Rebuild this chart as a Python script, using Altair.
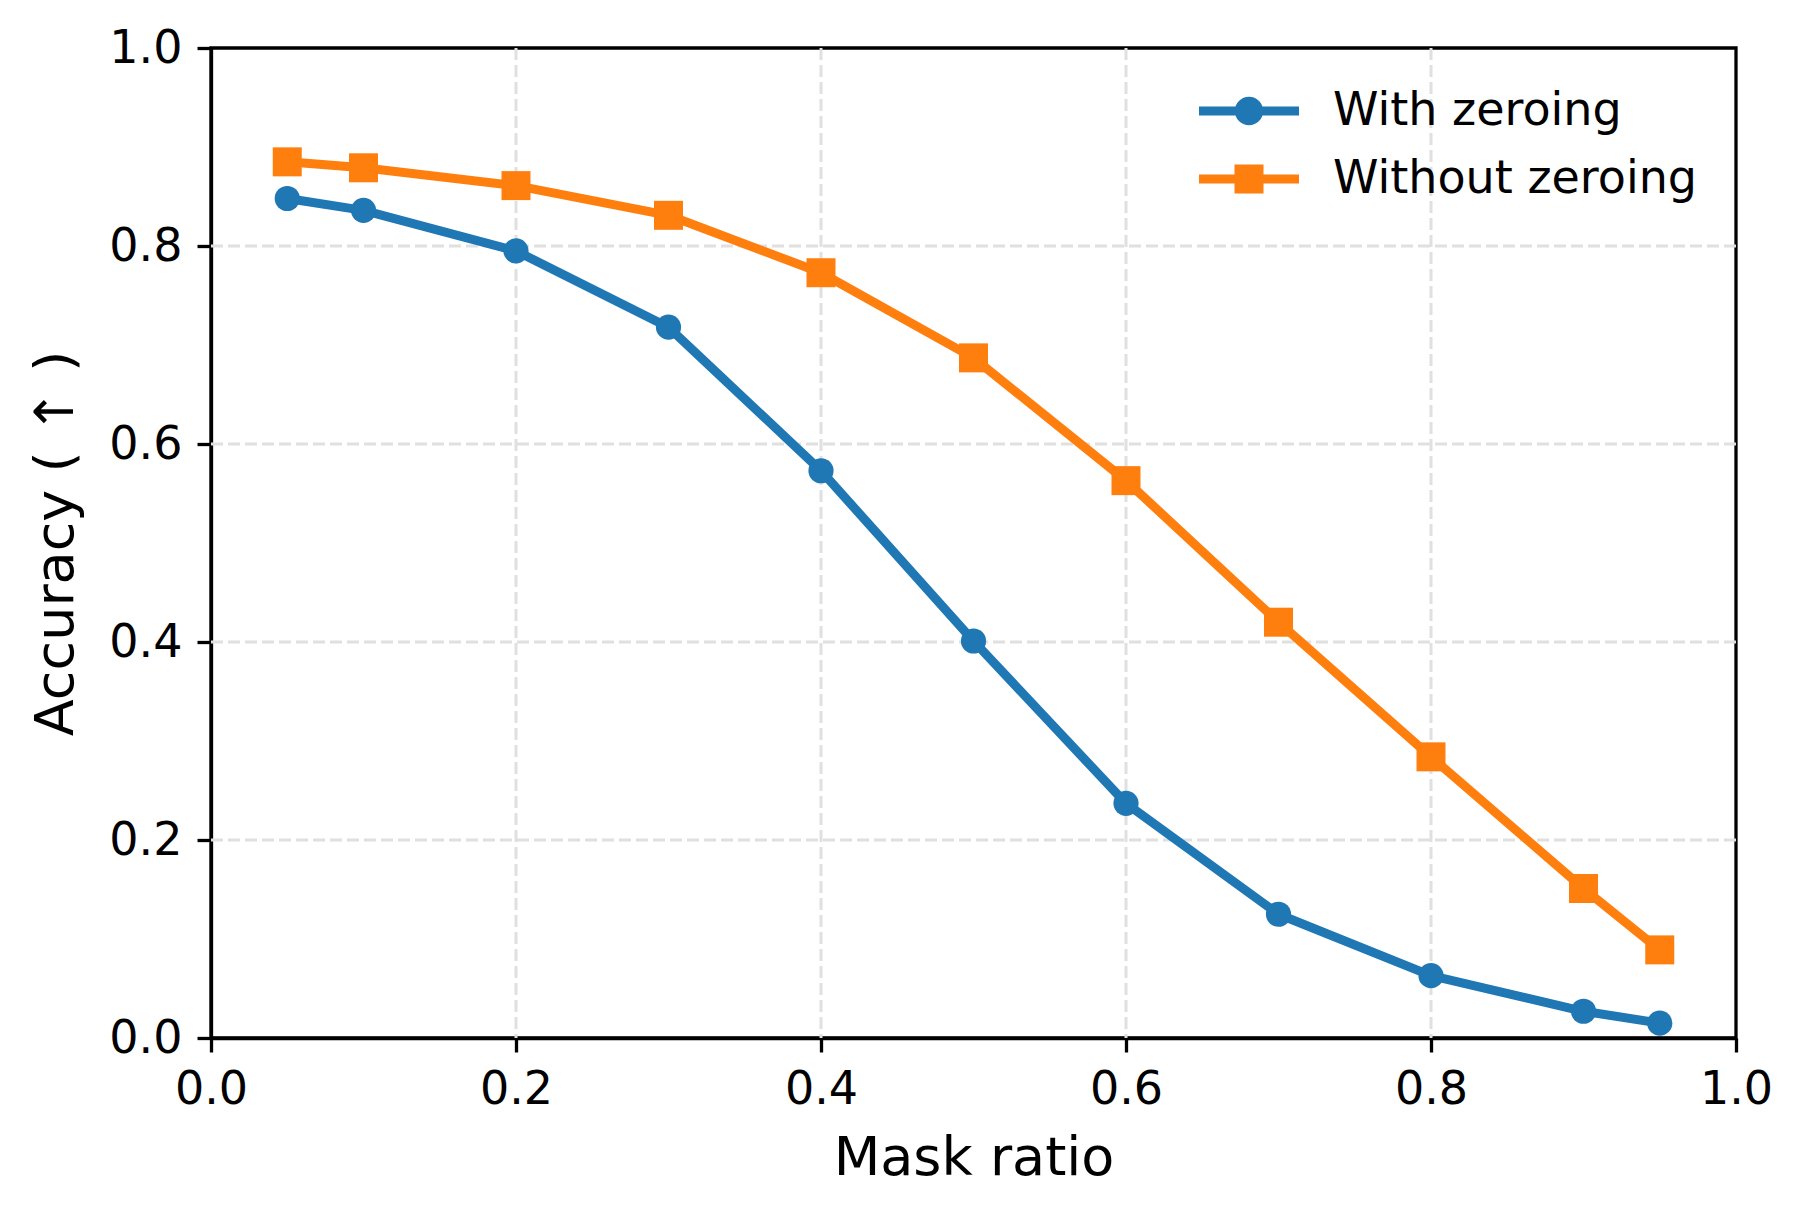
import altair as alt
import pandas as pd

# ---- data ----
mask_ratio = [0.05, 0.1, 0.2, 0.3, 0.4, 0.5, 0.6, 0.7, 0.8, 0.9, 0.95]
with_zeroing = [0.848, 0.836, 0.795, 0.718, 0.573, 0.401, 0.237, 0.125, 0.063, 0.027, 0.015]
without_zeroing = [0.885, 0.879, 0.861, 0.831, 0.773, 0.687, 0.563, 0.420, 0.284, 0.151, 0.089]
series_names = ["With zeroing", "Without zeroing"]
series_colors = ["#1f77b4", "#ff7f0e"]
series_shapes = ["circle", "square"]
series_sizes = [633, 841]
tick_values = [0.0, 0.2, 0.4, 0.6, 0.8, 1.0]
grid_values = [0.2, 0.4, 0.6, 0.8]  # interior grid lines (0 and 1 sit under the frame)

rows = []
for name, vals in zip(series_names, [with_zeroing, without_zeroing]):
    for xv, yv in zip(mask_ratio, vals):
        rows.append({"ratio": xv, "acc": yv, "series": name})
df = pd.DataFrame(rows)
grid_x = pd.DataFrame({"ratio": grid_values})
grid_y = pd.DataFrame({"acc": grid_values})

FONT = "DejaVu Sans"

# legend symbols: line segment + marker (unit coords scaled by sqrt(size)/2 = 50px)
PATH_CIRCLE = ("M-1,-0.09L1,-0.09L1,0.09L-1,0.09Z "
               "M0.284,0A0.284,0.284,0,1,1,-0.284,0A0.284,0.284,0,1,1,0.284,0Z")
PATH_SQUARE = ("M-1,-0.09L1,-0.09L1,0.09L-1,0.09Z "
               "M-0.29,-0.29L0.29,-0.29L0.29,0.29L-0.29,0.29Z")

legend_kw = dict(
    title=None,
    orient="none",
    legendX=988,
    legendY=46,
    padding=0,
    symbolSize=10000,
    symbolStrokeWidth=0,
    clipHeight=34,
    rowPadding=22,
    labelOffset=34,
    labelFont=FONT,
    labelFontSize=46,
    labelColor="black",
    labelLimit=2000,
)

common_axis = dict(
    values=tick_values,
    format=".1f",
    tickSize=14,
    tickWidth=3.3,
    tickColor="black",
    domainColor="black",
    domainWidth=3.3,
    labelFont=FONT,
    labelFontSize=46,
    labelColor="black",
    labelPadding=15,
    labelFlush=False,
    labelOverlap=False,
    titleFont=FONT,
    titleFontSize=54,
    titleFontWeight="normal",
    titleColor="black",
    grid=False,
)

x_enc = alt.X(
    "ratio:Q",
    scale=alt.Scale(domain=[0, 1], nice=False, zero=False),
    axis=alt.Axis(title="Mask ratio", titleBaseline="alphabetic", titleY=136, **common_axis),
)
y_enc = alt.Y(
    "acc:Q",
    scale=alt.Scale(domain=[0, 1], nice=False),
    axis=alt.Axis(
        title="Accuracy ( ↑ )",
        titleAngle=270,
        titleBaseline="alphabetic",
        titleAlign="center",
        titleX=-139,
        titleY=495,
        **common_axis,
    ),
)

grid_style = dict(color="#e0e0e0", strokeWidth=3.0, strokeDash=[12, 5])
layers = [
    alt.Chart(grid_x).mark_rule(**grid_style).encode(x=x_enc),
    alt.Chart(grid_y).mark_rule(**grid_style).encode(y=y_enc),
]

base = alt.Chart(df)
for i, name in enumerate(series_names):
    sub = base.transform_filter(alt.datum.series == name)
    layers.append(
        sub.mark_line(strokeWidth=9, strokeJoin="round").encode(
            x=x_enc, y=y_enc, color=alt.value(series_colors[i])
        )
    )
    layers.append(
        sub.mark_point(shape=series_shapes[i], filled=True, size=series_sizes[i], opacity=1).encode(
            x=x_enc, y=y_enc, color=alt.value(series_colors[i])
        )
    )

# legend-only layer (no rows drawn): provides the line+marker legend
legend_layer = base.transform_filter("false").mark_point(filled=True, opacity=1).encode(
    x=x_enc,
    y=y_enc,
    color=alt.Color(
        "series:N",
        scale=alt.Scale(domain=series_names, range=series_colors),
        legend=alt.Legend(**legend_kw),
    ),
    shape=alt.Shape(
        "series:N",
        scale=alt.Scale(domain=series_names, range=[PATH_CIRCLE, PATH_SQUARE]),
        legend=alt.Legend(**legend_kw),
    ),
)
layers.append(legend_layer)

chart = alt.layer(*layers).properties(
    width=1525,
    height=990,
    autosize=alt.AutoSizeParams(type="none"),
    padding={"left": 203, "top": 40, "right": 60, "bottom": 168},
    background="white",
).configure_view(
    stroke="black",
    strokeWidth=3.3,
)

chart.save("out.html", embed_options={"renderer": "svg", "actions": False})
